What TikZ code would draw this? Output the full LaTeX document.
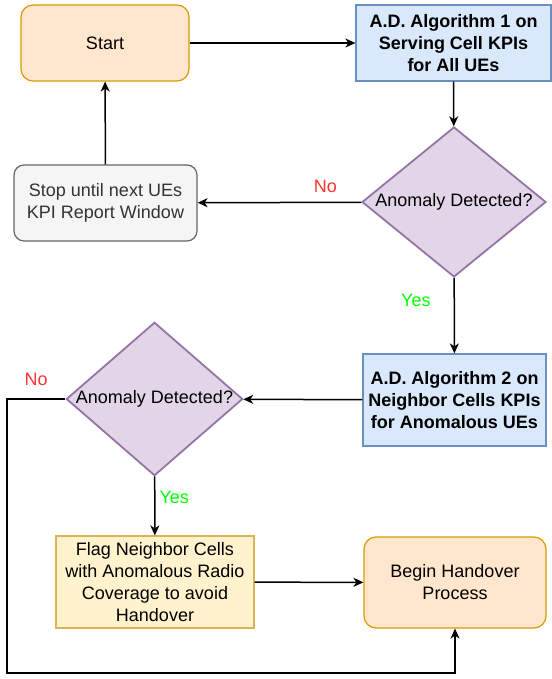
\documentclass[tikz,border=0pt]{standalone}
\usepackage{fontspec}
\setmainfont{Liberation Sans}
\usepackage{tikz}
\usetikzlibrary{arrows.meta,shapes.geometric}

\definecolor{orangefill}{HTML}{FFE6CC}
\definecolor{orangeline}{HTML}{D79B00}
\definecolor{bluefill}{HTML}{DAE8FC}
\definecolor{blueline}{HTML}{6C8EBF}
\definecolor{purplefill}{HTML}{E1D5E7}
\definecolor{purpleline}{HTML}{9673A6}
\definecolor{greyfill}{HTML}{F5F5F5}
\definecolor{greyline}{HTML}{666666}
\definecolor{greytext}{HTML}{333333}
\definecolor{yellowfill}{HTML}{FFF2CC}
\definecolor{yellowline}{HTML}{D6B656}
\definecolor{nored}{HTML}{FF3333}
\definecolor{yesgreen}{HTML}{00FF00}

\begin{document}
\begin{tikzpicture}[->,>={Stealth[length=10pt,width=9pt,inset=3pt]},x=1pt,y=-1pt,line width=1.5pt,
        font=\fontsize{18}{22}\selectfont,
        box/.style={draw,-,inner sep=0pt,align=center,line width=1.2pt},
        terminal/.style={box,rounded corners=12pt,fill=orangefill,draw=orangeline},
        algo/.style={box,fill=bluefill,draw=blueline,font=\fontsize{18}{22}\selectfont\bfseries},
        decision/.style={box,diamond,fill=purplefill,draw=purpleline,line width=1.8pt},
        waitbox/.style={box,rounded corners=10pt,fill=greyfill,draw=greyline,text=greytext},
        flagbox/.style={box,fill=yellowfill,draw=yellowline},
        nolabel/.style={text=nored,inner sep=0pt},
        yeslabel/.style={text=yesgreen,inner sep=0pt}]

  \useasboundingbox (0,0) rectangle (551,679);

  \node[terminal,minimum width=168pt,minimum height=76pt] (start) at (105,43) {Start};
  \node[algo,minimum width=195pt,minimum height=76pt] (alg1) at (453.5,43)
       {A.D. Algorithm 1 on\\Serving Cell KPIs\\for All UEs};
  \node[decision,aspect=1.227,minimum width=184pt,minimum height=150pt] (det1) at (454,202)
       {Anomaly Detected?};
  \node[waitbox,minimum width=183pt,minimum height=76pt] (stop) at (105.5,203)
       {Stop until next UEs\\KPI Report Window};
  \node[algo,minimum width=183pt,minimum height=92pt] (alg2) at (454.5,400)
       {A.D. Algorithm 2 on\\Neighbor Cells KPIs\\for Anomalous UEs};
  \node[decision,aspect=1.15,minimum width=175pt,minimum height=152pt] (det2) at (154.5,399)
       {Anomaly Detected?};
  \node[flagbox,minimum width=198pt,minimum height=92pt] (flag) at (155,582)
       {Flag Neighbor Cells\\with Anomalous Radio\\Coverage to avoid\\Handover};
  \node[terminal,minimum width=182pt,minimum height=91pt] (begin) at (455,582.5)
       {Begin Handover\\Process};
  \coordinate (loop) at (7,673);

  \path (start) edge (alg1)
        (alg1)  edge (det1)
        (det1)  edge node[nolabel,pos=0.22,above=9pt] {No} (stop)
        (stop)  edge (start)
        (det1)  edge node[yeslabel,pos=0.3,left=23pt] {Yes} (alg2)
        (alg2)  edge (det2)
        (det2)  edge node[yeslabel,pos=0.36,right=4pt] {Yes} (flag)
        (flag)  edge (begin);
  \draw (det2.west) -| node[nolabel,pos=0.25,above=13pt] {No} (loop) -| (begin.south);

\end{tikzpicture}
\end{document}
